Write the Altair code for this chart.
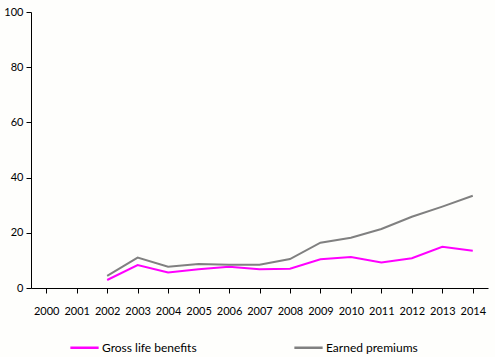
import altair as alt
import pandas as pd

years = [str(y) for y in range(2000, 2015)]
data_years = [str(y) for y in range(2002, 2015)]
gross_life_benefits = [2.9, 8.3, 5.6, 6.8, 7.7, 6.8, 7.0, 10.4, 11.2, 9.2, 10.8, 14.9, 13.5]
earned_premiums = [4.4, 11.0, 7.7, 8.7, 8.4, 8.4, 10.5, 16.4, 18.2, 21.4, 25.8, 29.5, 33.4]
series_names = ["Gross life benefits", "Earned premiums"]
series_colors = ["#FF00FF", "#808080"]

rows = []
for y, v in zip(data_years, gross_life_benefits):
    rows.append({"year": y, "value": v, "series": series_names[0]})
for y, v in zip(data_years, earned_premiums):
    rows.append({"year": y, "value": v, "series": series_names[1]})
df = pd.DataFrame(rows)

FONT = "Lato"

chart = alt.Chart(df).mark_line(strokeWidth=2).encode(
    x=alt.X("year:O", scale=alt.Scale(domain=years, paddingInner=0, paddingOuter=0),
            axis=alt.Axis(title=None, labelAngle=0, bandPosition=0, tickSize=5,
                          labelPadding=12, domainColor="black", tickColor="black",
                          labelColor="black", labelFontSize=11, labelFont=FONT, grid=False)),
    y=alt.Y("value:Q", scale=alt.Scale(domain=[0, 100], nice=False),
            axis=alt.Axis(title=None, values=[0, 20, 40, 60, 80, 100], tickSize=5,
                          domainColor="black", tickColor="black", labelColor="black",
                          labelFontSize=11, labelFont=FONT, grid=False, labelPadding=3)),
    color=alt.Color("series:N", scale=alt.Scale(domain=series_names, range=series_colors),
                    legend=alt.Legend(title=None, orient="none", legendX=38, legendY=320,
                                      direction="horizontal", symbolType="stroke",
                                      symbolSize=800, symbolStrokeWidth=2.5,
                                      labelFontSize=12, labelFont=FONT, labelColor="black",
                                      columnPadding=92, labelOffset=2)),
    order=alt.Order("series:N"),
).properties(
    width=457, height=276,
    autosize=alt.AutoSizeParams(type="none"),
    padding={"left": 31, "top": 12, "right": 7, "bottom": 69},
    background="#FEFEFC",
).configure_view(stroke=None)

chart.save("out.html", embed_options={"renderer": "svg", "actions": False})
